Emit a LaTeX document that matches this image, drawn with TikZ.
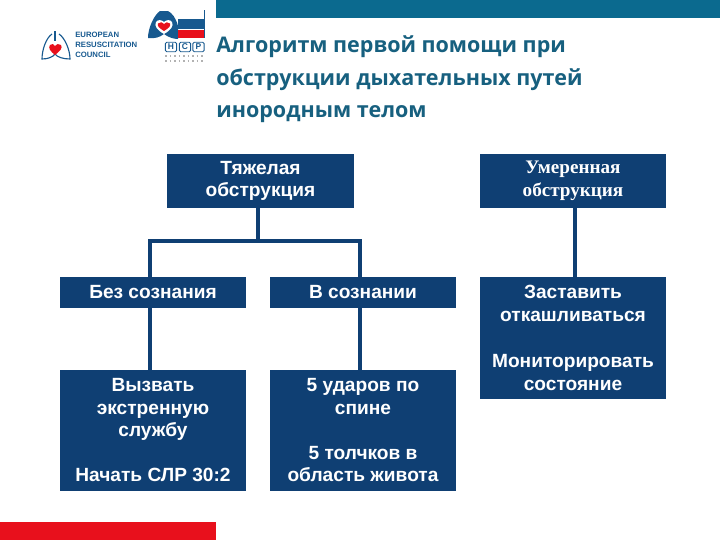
\documentclass[tikz,border=0pt]{standalone}
\usepackage{fontspec}
\setmainfont{Liberation Sans}
\newfontfamily\titlefont{Open Sans}
\newfontfamily\serifbox{Liberation Serif}
\definecolor{boxblue}{HTML}{0F3F73}
\definecolor{barteal}{HTML}{0B6A8F}
\definecolor{titleteal}{HTML}{17607F}
\definecolor{logored}{HTML}{E8101C}
\definecolor{logoblue}{HTML}{17598F}
\tikzset{
  blockbox/.style={fill=boxblue, text=white, inner sep=0pt, minimum width=4.65cm, align=center, font=\bfseries\fontsize{13.6}{16}\selectfont},
  link/.style={draw=boxblue, line width=2.2pt},
  titleline/.style={anchor=base west, inner sep=0pt, text=titleteal, font=\titlefont\bfseries\fontsize{15.3}{18}\selectfont},
  logotext/.style={anchor=west, inner sep=0pt, text=logoblue, font=\bfseries\fontsize{5.5}{6}\selectfont},
  hcpbox/.style={draw=logoblue, line width=0.6pt, rounded corners=1pt, inner sep=0pt, minimum width=0.28cm, minimum height=0.24cm, text=logoblue, font=\bfseries\fontsize{6}{6}\selectfont}
}
\begin{document}
\begin{tikzpicture}[x=0.025cm, y=-0.025cm]
  \useasboundingbox (0,0) rectangle (720,540);
  \fill[barteal] (216,0) rectangle (720,18);
  \fill[logored] (0,522) rectangle (216,540);
  \node[titleline] (title1) at (216,52.7) {Алгоритм первой помощи при};
  \node[titleline] (title2) at (216,85) {обструкции дыхательных путей};
  \node[titleline] (title3) at (216,117) {инородным телом};
  \draw[logoblue, line width=0.8pt] (52,34) .. controls (46,38) and (42,50) .. (42,59) .. controls (48,59) and (53,57) .. (55,54) .. controls (57,57) and (63,59) .. (70,59) .. controls (70,50) and (65,38) .. (59,34);
  \draw[logoblue, line width=0.8pt] (55,31) -- (55,41);
  \fill[logored] (55,55) .. controls (50,51) and (48,48) .. (50,45) .. controls (52,43) and (54,44) .. (55,46) .. controls (56,44) and (59,43) .. (61,45) .. controls (63,48) and (60,51) .. (55,55);
  \node[logotext] (erc1) at (75,35) {EUROPEAN};
  \node[logotext] (erc2) at (75,45) {RESUSCITATION};
  \node[logotext] (erc3) at (75,55) {COUNCIL};
  \fill[logoblue] (160,11) .. controls (154,15) and (148,28) .. (148,38) .. controls (155,39) and (160,37) .. (164,34) .. controls (168,37) and (173,39) .. (178,39) -- (178,26) .. controls (176,18) and (172,13) .. (168,11) -- cycle;
  \fill[white] (164,34) .. controls (157,30) and (154,26) .. (156,22) .. controls (158,19) and (162,20) .. (164,22) .. controls (166,20) and (170,19) .. (172,22) .. controls (174,26) and (171,30) .. (164,34);
  \fill[logored] (164,31) .. controls (159,28) and (157,26) .. (158,23.5) .. controls (160,21.5) and (163,22) .. (164,24) .. controls (165,22) and (168,21.5) .. (170,23.5) .. controls (171,26) and (169,28) .. (164,31);
  \fill[logoblue] (178,19) rectangle (204,29);
  \fill[logored] (178,30) rectangle (204,38);
  \draw[logoblue, line width=0.5pt] (204,10) -- (204,38);
  \node[hcpbox] (hcph) at (171,47) {H};
  \node[hcpbox] (hcpc) at (185,47) {C};
  \node[hcpbox] (hcpp) at (198.5,47) {P};
  \draw[gray!60, line width=1.2pt, dotted] (165,56) -- (204,56);
  \draw[gray!60, line width=1.2pt, dotted] (165,61) -- (204,61);
  \node[blockbox, minimum height=1.35cm] (tyazh) at (260.5,181) {Тяжелая\\обструкция};
  \node[blockbox, minimum height=1.35cm, font=\serifbox\bfseries\fontsize{13.6}{16.4}\selectfont] (umer) at (573,181) {Умеренная\\обструкция};
  \node[blockbox, minimum height=0.775cm] (bez) at (153,292.5) {Без сознания};
  \node[blockbox, minimum height=0.775cm] (vsoz) at (363,292.5) {В сознании};
  \node[blockbox, minimum height=3.05cm, font=\bfseries\fontsize{13.6}{16.4}\selectfont] (kashel) at (573,338) {Заставить\\откашливаться\\\mbox{}\\Мониторировать\\состояние};
  \node[blockbox, minimum height=3.025cm] (vyzov) at (153,430.5) {Вызвать\\экстренную\\службу\\\mbox{}\\Начать СЛР 30:2};
  \node[blockbox, minimum height=3.025cm] (udary) at (363,430.5) {5 ударов по\\спине\\\mbox{}\\5 толчков в\\область живота};
  \coordinate (fork) at (258,241);
  \coordinate (leftdrop) at (150,241);
  \coordinate (rightdrop) at (360,241);
  \coordinate (umerdrop) at (575,241);
  \draw[link] (tyazh.south -| fork) -- (fork);
  \draw[link] (bez.north -| leftdrop) -- (leftdrop) -- (rightdrop) -- (vsoz.north -| rightdrop);
  \draw[link] (bez.south -| leftdrop) -- (vyzov.north -| leftdrop);
  \draw[link] (vsoz.south -| rightdrop) -- (udary.north -| rightdrop);
  \draw[link] (umer.south -| umerdrop) -- (kashel.north -| umerdrop);
\end{tikzpicture}
\end{document}
